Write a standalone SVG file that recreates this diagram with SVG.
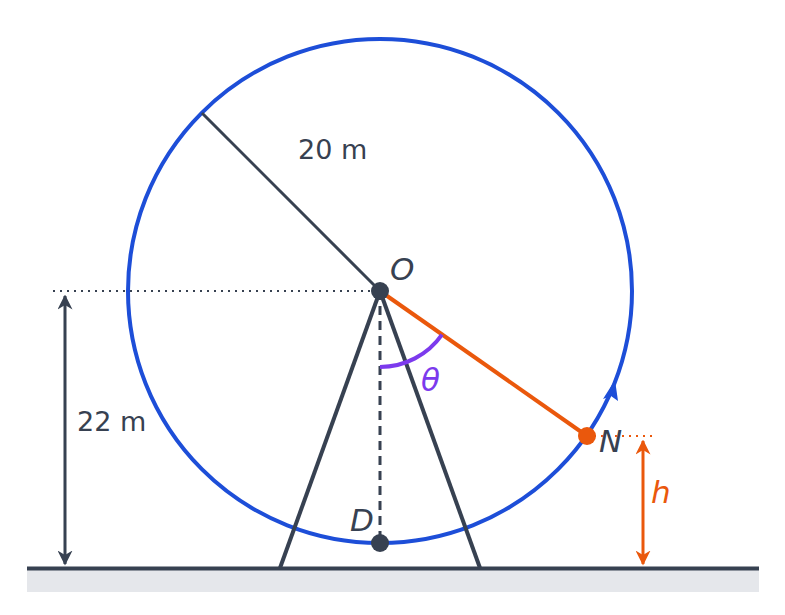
<svg xmlns="http://www.w3.org/2000/svg" width="785" height="615" viewBox="0 0 785 615">
<defs>
<style>
.dark{stroke:#374151;fill:none}
.lbl{font-family:"DejaVu Sans",sans-serif;font-size:27px;fill:#374151}
.it{font-style:italic;font-size:31px}
</style>
<marker id="ad" viewBox="0 0 10 10" refX="9" refY="5" markerWidth="5" markerHeight="5" orient="auto-start-reverse"><path d="M0,0 L10,5 L0,10 L3,5 z" fill="#374151"/></marker>
<marker id="ao" viewBox="0 0 10 10" refX="9" refY="5" markerWidth="5" markerHeight="5" orient="auto-start-reverse"><path d="M0,0 L10,5 L0,10 L3,5 z" fill="#ea580c"/></marker>
</defs>
<rect width="785" height="615" fill="#fff"/>
<g id="ground">
<rect x="27" y="570" width="732" height="22" fill="#e5e7eb"/>
<line x1="27" y1="568.5" x2="759" y2="568.5" stroke="#374151" stroke-width="4"/>
</g>
<g id="wheel">
<circle cx="380" cy="291" r="252" fill="none" stroke="#1d4ed8" stroke-width="4"/>
<path d="M603,399 L615,380 L618,401 L611,396 z" fill="#1d4ed8"/>
</g>
<g id="connectors">
<line class="dark" x1="380" y1="291" x2="202" y2="113" stroke-width="3"/>
<line class="dark" x1="380" y1="291" x2="280" y2="568" stroke-width="4"/>
<line class="dark" x1="380" y1="291" x2="480" y2="568" stroke-width="4"/>
<line class="dark" x1="380" y1="291" x2="380" y2="543" stroke-width="3" stroke-dasharray="9,6"/>
<line class="dark" x1="53" y1="291" x2="380" y2="291" stroke-width="2" stroke-dasharray="2,5"/>
<line class="dark" x1="65" y1="296" x2="65" y2="564" stroke-width="3" marker-start="url(#ad)" marker-end="url(#ad)"/>
<line x1="380" y1="291" x2="587" y2="436" stroke="#ea580c" stroke-width="4"/>
<line x1="587" y1="436" x2="656" y2="436" stroke="#ea580c" stroke-width="2" stroke-dasharray="2,5"/>
<line x1="643" y1="441" x2="643" y2="564" stroke="#ea580c" stroke-width="3" marker-start="url(#ao)" marker-end="url(#ao)"/>
<path d="M380,367 A76,76 0 0 0 442,334.6" fill="none" stroke="#7c3aed" stroke-width="4"/>
</g>
<g id="O">
<circle cx="380" cy="291" r="9" fill="#374151"/>
<text class="lbl it" x="390" y="280">O</text>
</g>
<g id="D">
<circle cx="380" cy="543" r="9" fill="#374151"/>
<text class="lbl it" x="350" y="531">D</text>
</g>
<g id="N">
<circle cx="587" cy="436" r="9" fill="#ea580c"/>
<text class="lbl it" x="599" y="452">N</text>
</g>
<text class="lbl" x="298" y="159">20 m</text>
<text class="lbl" x="77" y="431">22 m</text>
<text class="lbl it" x="421" y="391" style="fill:#7c3aed">θ</text>
<text class="lbl it" x="651" y="503" style="fill:#ea580c">h</text>
</svg>
